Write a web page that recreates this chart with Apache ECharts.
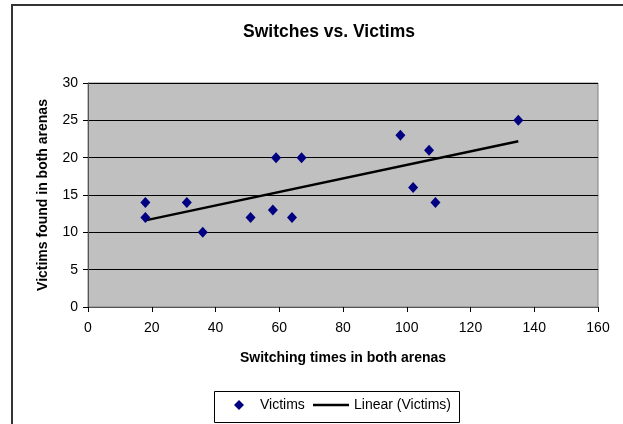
<!DOCTYPE html>
<html>
<head>
<meta charset="utf-8">
<script src="https://cdn.jsdelivr.net/npm/echarts@6/dist/echarts.min.js"></script>
<style>
html,body{margin:0;padding:0;background:#fff;}
#chart{width:623px;height:424px;}
</style>
</head>
<body>
<div id="chart"></div>
<script>
// Data
var switchTimes = [18, 18, 31, 36, 51, 58, 59, 67, 64, 98, 107, 102, 109, 135];
var victimsFound = [14, 12, 14, 10, 12, 13, 20, 20, 12, 23, 21, 16, 14, 25];
// Linear trendline endpoints as drawn in the reference
var trendX = [18, 135];
var trendY = [11.6, 22.2];
var xTicks = [0, 20, 40, 60, 80, 100, 120, 140, 160];
var yTicks = [0, 5, 10, 15, 20, 25, 30];

var scatterData = switchTimes.map(function (x, i) { return [x, victimsFound[i]]; });
var trendData = trendX.map(function (x, i) { return [x, trendY[i]]; });

var FONT = '"Liberation Sans", Arial, sans-serif';
var chart = echarts.init(document.getElementById('chart'), null, {renderer: 'canvas'});
chart.setOption({
  animation: false,
  backgroundColor: '#ffffff',
  title: {
    text: 'Switches vs. Victims',
    left: 324, top: 18, textAlign: 'center',
    textStyle: {fontFamily: FONT, fontSize: 17.5, fontWeight: 'bold', color: '#000'}
  },
  graphic: [
    {type: 'rect', shape: {x: 12, y: 5, width: 700, height: 500},
     style: {fill: 'none', stroke: '#333', lineWidth: 2}, silent: true, z: 100},
    {type: 'rect', shape: {x: 214.5, y: 391.5, width: 245, height: 31},
     style: {fill: '#fff', stroke: '#000', lineWidth: 1}, silent: true, z: 0}
  ],
  grid: {
    left: 88, top: 83, width: 510, height: 224,
    show: true, backgroundColor: '#C0C0C0', borderColor: '#808080', borderWidth: 1
  },
  xAxis: {
    type: 'value', min: 0, max: 160, interval: 20,
    name: 'Switching times in both arenas',
    nameLocation: 'middle', nameGap: 44,
    nameTextStyle: {fontFamily: FONT, fontSize: 14, fontWeight: 'bold', color: '#000'},
    axisLine: {show: true, lineStyle: {color: '#555', width: 1}},
    axisTick: {show: true, inside: false, length: 5, lineStyle: {color: '#000'}},
    axisLabel: {fontFamily: FONT, fontSize: 14, color: '#000', margin: 14,
      formatter: function (v) { return xTicks.indexOf(v) >= 0 ? String(v) : ''; }},
    splitLine: {show: false}
  },
  yAxis: {
    type: 'value', min: 0, max: 30, interval: 5,
    name: 'Victims found in both arenas',
    nameLocation: 'middle', nameGap: 38,
    nameTextStyle: {fontFamily: FONT, fontSize: 14, fontWeight: 'bold', color: '#000'},
    axisLine: {show: true, lineStyle: {color: '#555', width: 1}},
    axisTick: {show: true, inside: false, length: 5, lineStyle: {color: '#000'}},
    axisLabel: {fontFamily: FONT, fontSize: 14, color: '#000', margin: 10,
      formatter: function (v) { return yTicks.indexOf(v) >= 0 ? String(v) : ''; }},
    splitLine: {show: true, lineStyle: {color: '#000', width: 1}}
  },
  legend: [
    {
      data: [{name: 'Victims', icon: 'diamond'}],
      left: 234, top: 398, itemWidth: 10, itemHeight: 10, padding: 0,
      itemStyle: {color: '#000080', opacity: 1},
      textStyle: {fontFamily: FONT, fontSize: 14, color: '#000', padding: [0, 0, 0, 11]}
    },
    {
      data: [{name: 'Linear (Victims)', icon: 'rect'}],
      left: 313, top: 398, itemWidth: 36, itemHeight: 2.5, padding: 0,
      itemStyle: {color: '#000'},
      lineStyle: {width: 0},
      textStyle: {fontFamily: FONT, fontSize: 14, color: '#000'}
    }
  ],
  series: [
    {
      name: 'Victims', type: 'scatter', data: scatterData,
      symbol: 'diamond', symbolSize: [10, 11],
      itemStyle: {color: '#000080', opacity: 1}, z: 3
    },
    {
      name: 'Linear (Victims)', type: 'line', data: trendData,
      symbol: 'none', showSymbol: false,
      lineStyle: {color: '#000', width: 2.5},
      itemStyle: {color: '#000'}, z: 2
    }
  ]
});
</script>
</body>
</html>
